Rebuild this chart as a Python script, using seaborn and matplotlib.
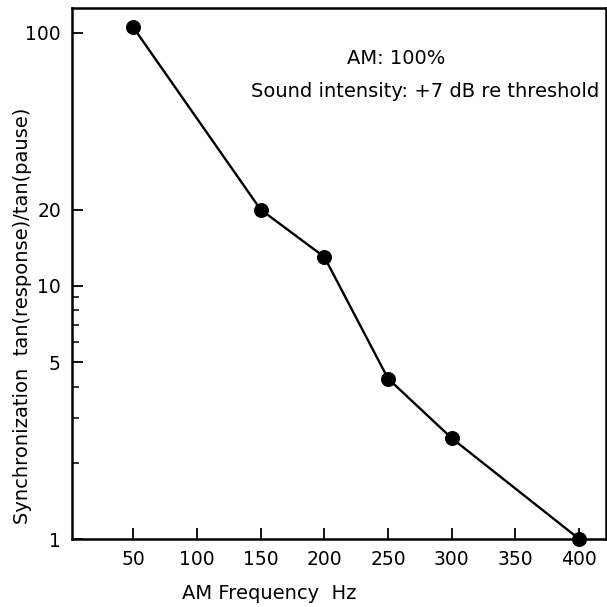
import numpy as np
import pandas as pd
import matplotlib
matplotlib.use("Agg")
import matplotlib.pyplot as plt
from matplotlib.ticker import FixedLocator, FixedFormatter, NullFormatter
import seaborn as sns

# datos
am_freq = [50, 150, 200, 250, 300, 400]
sync_ratio = [105, 20, 13, 4.3, 2.5, 1]
x_ticks = [50, 100, 150, 200, 250, 300, 350, 400]
y_ticks = [1, 5, 10, 20, 100]
y_minor = [2, 3, 4, 6, 7, 8, 9]

data = pd.DataFrame({"freq": am_freq, "sync": sync_ratio})

sns.set_style("ticks")
plt.rcParams["font.family"] = ["DejaVu Sans"]
plt.rcParams["text.color"] = "black"
plt.rcParams["axes.labelcolor"] = "black"
plt.rcParams["xtick.color"] = "black"
plt.rcParams["ytick.color"] = "black"

fig = plt.figure(figsize=(6.07, 6.07), dpi=100)
ax = fig.add_axes([0.1186, 0.112, 0.8797, 0.8748])

sns.lineplot(data=data, x="freq", y="sync", ax=ax, color="black", linewidth=1.7,
             marker="o", markersize=10, markeredgecolor="black", clip_on=False)

ax.set_yscale("log")
ax.set_xlim(2, 421)
ax.set_ylim(1, 125)

ax.xaxis.set_major_locator(FixedLocator(x_ticks))
ax.yaxis.set_major_locator(FixedLocator(y_ticks))
ax.yaxis.set_major_formatter(FixedFormatter([str(v) for v in y_ticks]))
ax.yaxis.set_minor_locator(FixedLocator(y_minor))
ax.yaxis.set_minor_formatter(NullFormatter())
ax.xaxis.set_minor_locator(FixedLocator([]))

ax.tick_params(axis="both", which="major", direction="in", length=8, width=1.3,
               labelsize=13.5, pad=8, top=False, right=False, colors="black")
ax.tick_params(axis="y", which="minor", direction="in", length=5, width=1.1)

for s in ax.spines.values():
    s.set_linewidth(1.8)
    s.set_color("black")

ax.set_xlabel("AM Frequency  Hz", fontsize=14)
ax.xaxis.set_label_coords(0.37, -0.085)
ax.set_ylabel("Synchronization  tan(response)/tan(pause)", fontsize=14)
ax.yaxis.set_label_coords(-0.075, 0.42)

ax.text(0.607, 0.905, "AM: 100%", transform=ax.transAxes, fontsize=14,
        ha="center", va="center")
ax.text(0.662, 0.843, "Sound intensity: +7 dB re threshold", transform=ax.transAxes,
        fontsize=14, ha="center", va="center")

fig.savefig("out.png", dpi=100)
